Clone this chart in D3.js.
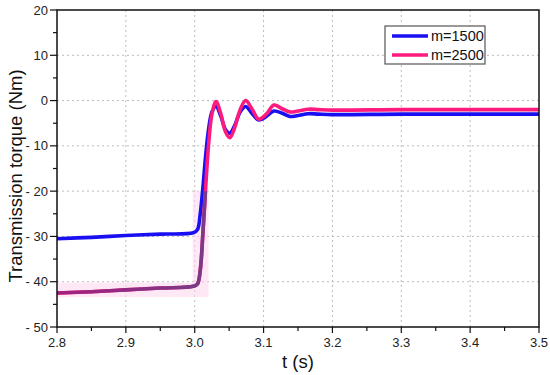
<!DOCTYPE html>
<html>
<head>
<meta charset="utf-8">
<script src="https://cdn.jsdelivr.net/npm/d3@7"></script>
<style>
  body { margin: 0; background: #fff; }
  text { font-family: "Liberation Sans", Arial, sans-serif; }
</style>
</head>
<body>
<svg id="chart" width="550" height="375"></svg>
<script>
// time (s)
const times = [2.8, 2.85, 2.9, 2.95, 2.998, 3.004, 3.008, 3.012, 3.016, 3.020, 3.025, 3.031,
  3.038, 3.045, 3.051, 3.058, 3.066, 3.074, 3.083, 3.093, 3.104, 3.115, 3.127, 3.138,
  3.15, 3.165, 3.18, 3.2, 3.3, 3.4, 3.5];
// m=1500
const torque1500 = [-30.5, -30.2, -29.8, -29.5, -29.2, -28.5, -25, -19, -12, -6.5, -2.5, -1.3,
  -3.5, -6.5, -7.2, -5.5, -2.5, -1.3, -2.8, -4.3, -3.5, -2.3, -2.8, -3.5,
  -3.3, -2.9, -3.0, -3.1, -3.0, -3.0, -3.0];
// m=2500
const torque2500 = [-42.5, -42.2, -41.8, -41.4, -41.0, -40.5, -37.5, -29, -19, -10, -3, -0.2,
  -3, -7, -8.2, -6, -2, 0, -1.8, -4.1, -3, -1, -1.8, -2.5,
  -2.3, -1.9, -2.0, -2.1, -2.0, -2.0, -2.0];
const seriesNames = ["m=1500", "m=2500"];
const seriesColors = ["#1a0ff0", "#ff1a7d"];
const xTicks = [2.8, 2.9, 3.0, 3.1, 3.2, 3.3, 3.4, 3.5];
const xTickLabels = ["2.8", "2.9", "3.0", "3.1", "3.2", "3.3", "3.4", "3.5"];
const yTicks = [20, 10, 0, -10, -20, -30, -40, -50];
const yTickLabels = ["20", "10", "0", "- 10", "- 20", "- 30", "- 40", "- 50"];

const margin = { top: 10, left: 57, right: 11, bottom: 48 };
const width = 550, height = 375;
const innerwidth = width - margin.left - margin.right;
const innerheight = height - margin.top - margin.bottom;

const svg = d3.select('#chart');
const canvas = svg.append('g')
    .attr('transform', `translate(${margin.left},${margin.top})`);

const xScale = d3.scaleLinear().domain([2.8, 3.5]).range([0, innerwidth]);
const yScale = d3.scaleLinear().domain([-50, 20]).range([innerheight, 0]);

// grid
canvas.append('g').selectAll('line')
    .data(xTicks.slice(1, -1))
    .enter().append('line')
    .attr('x1', d => xScale(d)).attr('x2', d => xScale(d))
    .attr('y1', 0).attr('y2', innerheight)
    .attr('stroke', '#bbb').attr('stroke-dasharray', '2,3');
canvas.append('g').selectAll('line')
    .data(yTicks.slice(1, -1))
    .enter().append('line')
    .attr('y1', d => yScale(d)).attr('y2', d => yScale(d))
    .attr('x1', 0).attr('x2', innerwidth)
    .attr('stroke', '#bbb').attr('stroke-dasharray', '2,3');

// faint highlight around the lower m=2500 segment
const glow = canvas.append('g').attr('fill', '#ffd6f0').attr('opacity', 0.55);
glow.append('rect')
    .attr('x', xScale(2.8)).attr('width', xScale(3.0) - xScale(2.8))
    .attr('y', yScale(-40.2)).attr('height', yScale(-43.4) - yScale(-40.2));
glow.append('rect')
    .attr('x', xScale(2.997)).attr('width', xScale(3.02) - xScale(2.997))
    .attr('y', yScale(-20)).attr('height', yScale(-43.4) - yScale(-20));

const line = d3.line()
    .x((d, i) => xScale(times[i]))
    .y(d => yScale(d))
    .curve(d3.curveCatmullRom.alpha(0.5));

[torque1500, torque2500].forEach((vals, k) => {
  canvas.append('path')
      .datum(vals)
      .attr('d', line)
      .attr('fill', 'none')
      .attr('stroke', seriesColors[k])
      .attr('stroke-width', 3.6)
      .attr('stroke-linejoin', 'round');
});

// purple tint of the lower m=2500 segment
const defs = svg.append('defs');
const grad = defs.append('linearGradient').attr('id', 'purp')
    .attr('gradientUnits', 'userSpaceOnUse')
    .attr('x1', 0).attr('x2', xScale(3.0)).attr('y1', 0).attr('y2', 0);
grad.append('stop').attr('offset', '0%').attr('stop-color', '#a5207e');
grad.append('stop').attr('offset', '100%').attr('stop-color', '#7b3a86');
defs.append('clipPath').attr('id', 'lowclip')
  .append('rect')
    .attr('x', -5).attr('width', xScale(3.02) + 5)
    .attr('y', yScale(-20)).attr('height', innerheight);
canvas.append('path')
    .datum(torque2500)
    .attr('d', line)
    .attr('fill', 'none')
    .attr('stroke', 'url(#purp)')
    .attr('stroke-width', 3.6)
    .attr('clip-path', 'url(#lowclip)');

// frame
canvas.append('rect')
    .attr('width', innerwidth).attr('height', innerheight)
    .attr('fill', 'none').attr('stroke', '#111').attr('stroke-width', 1.5);

// x ticks
const xMinor = d3.range(2.85, 3.5, 0.1);
canvas.append('g').selectAll('line')
    .data(xTicks.concat(xMinor))
    .enter().append('line')
    .attr('x1', d => xScale(d)).attr('x2', d => xScale(d))
    .attr('y1', innerheight)
    .attr('y2', (d, i) => innerheight + (i < xTicks.length ? 6 : 4))
    .attr('stroke', '#111').attr('stroke-width', 1.2);
canvas.append('g').selectAll('text')
    .data(xTicks)
    .enter().append('text')
    .attr('x', d => xScale(d))
    .attr('y', innerheight + 20)
    .attr('text-anchor', 'middle')
    .attr('font-size', 13)
    .attr('fill', '#222')
    .text((d, i) => xTickLabels[i]);

// y ticks
const yMinor = d3.range(-45, 20, 10);
canvas.append('g').selectAll('line')
    .data(yTicks.concat(yMinor))
    .enter().append('line')
    .attr('y1', d => yScale(d)).attr('y2', d => yScale(d))
    .attr('x1', 0)
    .attr('x2', (d, i) => (i < yTicks.length ? -7 : -4))
    .attr('stroke', '#111').attr('stroke-width', 1.2);
canvas.append('g').selectAll('text')
    .data(yTicks)
    .enter().append('text')
    .attr('x', -9)
    .attr('y', d => yScale(d) + 4.5)
    .attr('text-anchor', 'end')
    .attr('font-size', 13)
    .attr('fill', '#222')
    .text((d, i) => yTickLabels[i]);

// axis titles
svg.append('text')
    .attr('transform', 'translate(22,176) rotate(-90)')
    .attr('text-anchor', 'middle')
    .attr('font-size', 18.5)
    .attr('fill', '#111')
    .text('Transmission torque (Nm)');
svg.append('text')
    .attr('x', margin.left + innerwidth / 2)
    .attr('y', 368)
    .attr('text-anchor', 'middle')
    .attr('font-size', 18.5)
    .attr('fill', '#111')
    .text('t (s)');

// legend
const legend = svg.append('g').attr('transform', 'translate(385,26)');
legend.append('rect')
    .attr('width', 100).attr('height', 38)
    .attr('fill', '#fff').attr('stroke', '#555').attr('stroke-width', 1.2);
seriesNames.forEach((name, k) => {
  legend.append('line')
      .attr('x1', 7).attr('x2', 43)
      .attr('y1', 10 + k * 19).attr('y2', 10 + k * 19)
      .attr('stroke', seriesColors[k]).attr('stroke-width', 3.6);
  legend.append('text')
      .attr('x', 46).attr('y', 15 + k * 19)
      .attr('font-size', 14.5)
      .attr('fill', '#111')
      .text(name);
});
</script>
</body>
</html>
